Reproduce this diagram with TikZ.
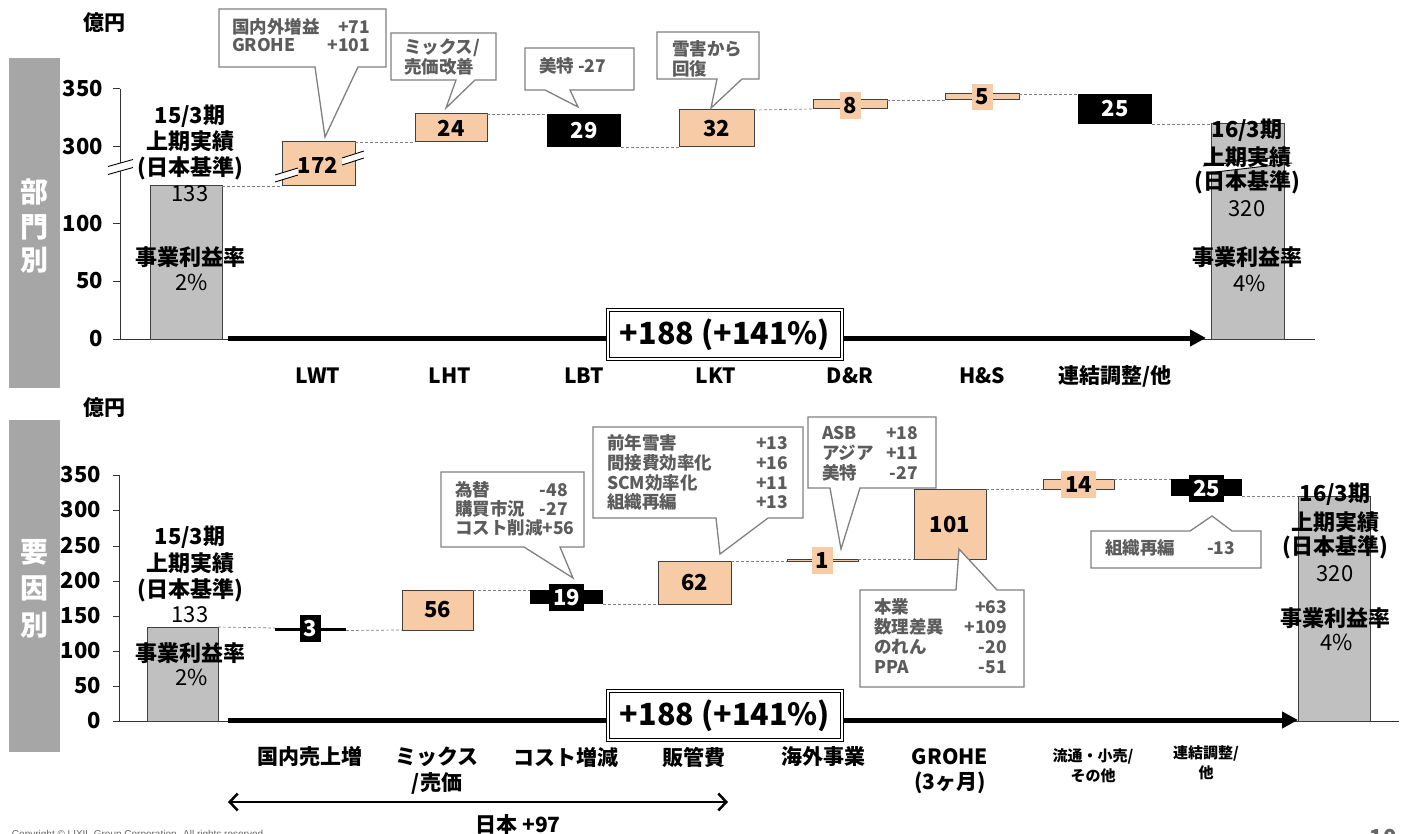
\documentclass[tikz,border=0pt]{standalone}
\usepackage{fontspec}
\setmainfont{Noto Sans CJK JP}
\newfontfamily\arialf{Liberation Sans}
\usetikzlibrary{arrows.meta}
\definecolor{peach}{HTML}{F8CBA7}
\definecolor{barg}{HTML}{C0C0C0}
\definecolor{sideg}{HTML}{A6A6A6}
\definecolor{cgray}{HTML}{808080}
\definecolor{ctxt}{HTML}{5C5C5C}
\definecolor{edge}{HTML}{404040}
\newcommand\fV{\fontsize{22}{24}\selectfont\bfseries}
\newcommand\fR{\fontsize{22}{24}\selectfont}
\newcommand\fX{\fontsize{21}{23}\selectfont\bfseries}
\newcommand\fS{\fontsize{15}{17}\selectfont\bfseries}
\newcommand\fCo{\fontsize{17.5}{19}\selectfont\bfseries}
\newcommand\fBig{\fontsize{30.5}{34}\selectfont\bfseries}
\newcommand\fSide{\fontsize{28}{30}\selectfont\bfseries}
\newcommand\fU{\fontsize{21}{23}\selectfont\bfseries}
\newcommand\BX[7]{\node[#1, minimum width={#5-#3}, minimum height={#6-#4}] (#2) at ({(#3+#5)/2},{(#4+#6)/2}) {#7};}
\begin{document}
\begin{tikzpicture}[x=1pt,y=-1pt,
  every node/.style={inner sep=0pt, outer sep=0pt},
  axisline/.style={draw=black!80, line width=1pt},
  inc/.style={draw=edge, line width=1pt, fill=peach, font=\fV},
  dec/.style={fill=black, text=white, font=\fV},
  total/.style={draw=edge, line width=1pt, fill=barg},
  conn/.style={draw=gray, line width=0.7pt, dash pattern=on 3pt off 2pt},
  lblp/.style={fill=peach, font=\fV},
  lblb/.style={fill=black, text=white, font=\fV},
  ticklbl/.style={anchor=east, font=\fV},
  side/.style={text=white, font=\fSide},
  xlbl/.style={font=\fX},
  xsmall/.style={font=\fS},
  cbox/.style={draw=cgray, line width=1.3pt, fill=white, line join=miter},
  ctl/.style={anchor=west, text=ctxt, font=\fCo},
  ctr/.style={anchor=east, text=ctxt, font=\fCo},
  bigarrow/.style={line width=5pt, -{Triangle[length=16pt,width=16pt]}},
  sumbox/.style={draw=black, double, double distance=2pt, line width=1pt, fill=white, font=\fBig, minimum width=234, minimum height=49},
  brk/.style={fill=white, draw=none},
  brkline/.style={draw=black, line width=0.9pt}
]
\useasboundingbox (0,0) rectangle (1410,834);

% ================= TOP CHART =================
\fill[sideg] (9,58) rectangle (60,388);
\node[side] (s1) at (34,192) {部};
\node[side] (s2) at (34,227) {門};
\node[side] (s3) at (34,260) {別};
\node[font=\fU] (u1) at (104,23) {億円};

\draw[axisline] (120,89) -- (120,339);
\foreach \yy/\lab in {89/350,147/300,224/100,281/50,339/0}{
  \draw[axisline] (113,\yy) -- (120,\yy);
  \node[ticklbl] at (103,\yy) {\lab};
}
\draw[axisline] (113,339) -- (1315,339);
% axis break
\fill[brk] (108,166.5) -- (133,159.5) -- (133,167.5) -- (108,174.5) -- cycle;
\draw[brkline] (108,166.5) -- (133,159.5) (108,174.5) -- (133,167.5);

\BX{total}{t0}{150}{186}{222}{339}{}
\BX{inc}{a1}{282}{142}{355}{186}{}
\BX{inc}{a2}{415}{114}{487}{142}{24}
\BX{dec}{a3}{547}{114}{621}{147}{29}
\BX{inc}{a4}{679}{110}{754}{147}{32}
\BX{inc}{a5}{813}{100}{887}{109}{}
\BX{inc}{a6}{945}{94}{1019}{100}{}
\BX{dec}{a7}{1078}{94}{1152}{124}{25}
\BX{total}{t1}{1211}{124}{1284}{339}{}

\draw[conn] (t0.north east) -- (a1.south west);
\draw[conn] (a1.north east) -- (a2.south west);
\draw[conn] (a2.north east) -- (a3.north west);
\draw[conn] (a3.south east) -- (a4.south west);
\draw[conn] (a4.north east) -- (a5.south west);
\draw[conn] (a5.north east) -- (a6.south west);
\draw[conn] (a6.north east) -- (a7.north west);
\draw[conn] (a7.south east) -- (t1.north west);

% breaks on 172 bar
\fill[brk] (275,175) -- (298,168) -- (298,175) -- (275,182) -- cycle;
\draw[brkline] (275,175) -- (298,168) (275,182) -- (298,175);
\fill[brk] (342,158) -- (364,151) -- (364,158) -- (342,165) -- cycle;
\draw[brkline] (342,158) -- (364,151) (342,165) -- (364,158);
\node[font=\fV] (v1) at (318,165) {172};
% break on right bar
\fill[brk] (1203,166) -- (1288,156) -- (1292,163) -- (1207,173) -- cycle;
\draw[brkline] (1203,166) -- (1288,156) (1207,173) -- (1292,163);

\BX{lblp}{v5}{840}{92}{861}{119}{8}
\BX{lblp}{v6}{972}{84}{993}{110}{5}

% bar texts
\node[font=\fV] (l1a) at (190,116) {15/3期};
\node[font=\fV] (l1b) at (190,141) {上期実績};
\node[font=\fV] (l1c) at (190,168) {(日本基準)};
\node[font=\fR] (l1d) at (190,194) {133};
\node[font=\fV] (l1e) at (190,257) {事業利益率};
\node[font=\fR] (l1f) at (192,282) {2\%};
\node[font=\fV] (r1a) at (1247,130) {16/3期};
\node[font=\fV] (r1b) at (1247,157) {上期実績};
\node[font=\fV] (r1c) at (1247,182) {(日本基準)};
\node[font=\fR] (r1d) at (1247,209) {320};
\node[font=\fV] (r1e) at (1247,257) {事業利益率};
\node[font=\fR] (r1f) at (1250,283) {4\%};

% arrow and sum
\coordinate (ta0) at (228,338);
\coordinate (ta1) at (1206,338);
\draw[bigarrow] (ta0) -- (ta1);
\node[sumbox] (sum1) at (725,334.5) {+188 (+141\%)};

% x labels
\node[xlbl] (x1) at (318,376) {LWT};
\node[xlbl] (x2) at (450,376) {LHT};
\node[xlbl] (x3) at (584,376) {LBT};
\node[xlbl] (x4) at (716,376) {LKT};
\node[xlbl] (x5) at (850,376) {D\&R};
\node[xlbl] (x6) at (982,376) {H\&S};
\node[xlbl] (x7) at (1115,376) {連結調整/他};

% callouts
\draw[cbox] (219,9) -- (386,9) -- (386,67) -- (358,67) -- (325,137) -- (315,67) -- (219,67) -- cycle;
\node[ctl] (c1a) at (232,27) {国内外増益};
\node[ctr] (c1b) at (370,27) {+71};
\node[ctl] (c1c) at (232,45) {GROHE};
\node[ctr] (c1d) at (370,45) {+101};

\draw[cbox] (391,33) -- (496,33) -- (496,80) -- (475,80) -- (446,108) -- (456,80) -- (391,80) -- cycle;
\node[ctl] (c2a) at (404,48) {ミックス/};
\node[ctl] (c2b) at (404,67) {売価改善};

\draw[cbox] (525,48) -- (634,48) -- (634,90) -- (570,90) -- (578,107) -- (545,90) -- (525,90) -- cycle;
\node[ctl] (c3a) at (539,66) {美特 -27};

\draw[cbox] (657,32) -- (759,32) -- (759,79) -- (742,79) -- (711,108) -- (717,79) -- (657,79) -- cycle;
\node[ctl] (c4a) at (672,49) {雪害から};
\node[ctl] (c4b) at (672,69) {回復};

% ================= BOTTOM CHART =================
\fill[sideg] (9,420) rectangle (60,752);
\node[side] (s4) at (34,552) {要};
\node[side] (s5) at (34,588) {因};
\node[side] (s6) at (34,625) {別};
\node[font=\fU] (u2) at (104,408) {億円};

\draw[axisline] (119,475) -- (119,721);
\foreach \yy/\lab in {475/350,510/300,546/250,581/200,616/150,651/100,686/50,721/0}{
  \draw[axisline] (113,\yy) -- (119,\yy);
  \node[ticklbl] at (101,\yy) {\lab};
}
\draw[axisline] (113,721) -- (1399,721);

\BX{total}{t2}{147}{627}{218}{721}{}
\BX{dec}{b1}{275}{628}{346}{630.5}{}
\BX{inc}{b2}{402}{590}{473}{630}{56}
\BX{dec}{b3}{530}{590}{603}{604}{}
\BX{inc}{b4}{658}{561}{731}{604}{62}
\BX{inc}{b5}{787}{559}{858}{561}{}
\BX{inc}{b6}{914}{489}{986}{559}{}
\BX{inc}{b7}{1043}{479}{1114}{489}{}
\BX{dec}{b8}{1171}{479}{1242}{496}{}
\BX{total}{t3}{1298}{496}{1370}{721}{}

\draw[conn] (t2.north east) -- (b1.north west);
\draw[conn] (b1.south east) -- (b2.south west);
\draw[conn] (b2.north east) -- (b3.north west);
\draw[conn] (b3.south east) -- (b4.south west);
\draw[conn] (b4.north east) -- (b5.south west);
\draw[conn] (b5.north east) -- (b6.south west);
\draw[conn] (b6.north east) -- (b7.south west);
\draw[conn] (b7.north east) -- (b8.north west);
\draw[conn] (b8.south east) -- (t3.north west);

\BX{lblb}{w1}{300}{615}{321}{642}{3}
\BX{lblb}{w3}{549}{584}{584}{611}{19}
\BX{lblp}{w5}{812}{547}{833}{574}{1}
\node[font=\fV] (w6) at (950,525) {101};
\BX{lblp}{w7}{1061}{471}{1096}{498}{14}
\BX{lblb}{w8}{1189}{475}{1224}{502}{25}

\node[font=\fV] (l2a) at (190,537) {15/3期};
\node[font=\fV] (l2b) at (190,563) {上期実績};
\node[font=\fV] (l2c) at (190,590) {(日本基準)};
\node[font=\fR] (l2d) at (190,615) {133};
\node[font=\fV] (l2e) at (190,653) {事業利益率};
\node[font=\fR] (l2f) at (192,677) {2\%};
\node[font=\fV] (r2a) at (1335,494) {16/3期};
\node[font=\fV] (r2b) at (1335,522) {上期実績};
\node[font=\fV] (r2c) at (1335,547) {(日本基準)};
\node[font=\fR] (r2d) at (1335,574) {320};
\node[font=\fV] (r2e) at (1335,618) {事業利益率};
\node[font=\fR] (r2f) at (1337,642) {4\%};

\coordinate (ba0) at (228,720);
\coordinate (ba1) at (1298,720);
\draw[bigarrow] (ba0) -- (ba1);
\node[sumbox] (sum2) at (725,715.5) {+188 (+141\%)};

\node[xlbl] (y1) at (310,757) {国内売上増};
\node[xlbl] (y2a) at (437,757) {ミックス};
\node[xlbl] (y2b) at (437,783) {/売価};
\node[xlbl] (y3) at (566,757) {コスト増減};
\node[xlbl] (y4) at (694,757) {販管費};
\node[xlbl] (y5) at (823,757) {海外事業};
\node[xlbl] (y6a) at (950,757) {GROHE};
\node[xlbl] (y6b) at (950,783) {(3ヶ月)};
\node[xsmall] (y7a) at (1093,756) {流通・小売/};
\node[xsmall] (y7b) at (1093,776) {その他};
\node[xsmall] (y8a) at (1206,753) {連結調整/};
\node[xsmall] (y8b) at (1206,773) {他};

\coordinate (ja0) at (228,802);
\coordinate (ja1) at (728,802);
\draw[line width=2.5pt, {Straight Barb[length=8pt,width=17pt]}-{Straight Barb[length=8pt,width=17pt]}] (ja0) -- (ja1);
\node[xlbl] (jp) at (518,825) {日本 +97};

% callouts
\draw[cbox] (441,472) -- (584,472) -- (584,547) -- (560,547) -- (573,578) -- (524,547) -- (441,547) -- cycle;
\node[ctl] (d1a) at (455,490) {為替};
\node[ctr] (d1b) at (568,490) {-48};
\node[ctl] (d1c) at (455,509) {購買市況};
\node[ctr] (d1d) at (568,509) {-27};
\node[ctl] (d1e) at (455,528) {コスト削減+56};

\draw[cbox] (593,427) -- (803,427) -- (803,518) -- (768,518) -- (720,554) -- (716,518) -- (593,518) -- cycle;
\node[ctl] (d2a) at (607,443) {前年雪害};
\node[ctr] (d2b) at (788,443) {+13};
\node[ctl] (d2c) at (607,463) {間接費効率化};
\node[ctr] (d2d) at (788,463) {+16};
\node[ctl] (d2e) at (607,483) {SCM効率化};
\node[ctr] (d2f) at (788,483) {+11};
\node[ctl] (d2g) at (607,502) {組織再編};
\node[ctr] (d2h) at (788,502) {+13};

\draw[cbox] (808,417) -- (936,417) -- (936,488) -- (860,488) -- (841,549) -- (830,488) -- (808,488) -- cycle;
\node[ctl] (d3a) at (822,433) {ASB};
\node[ctr] (d3b) at (918,433) {+18};
\node[ctl] (d3c) at (822,453) {アジア};
\node[ctr] (d3d) at (918,453) {+11};
\node[ctl] (d3e) at (822,473) {美特};
\node[ctr] (d3f) at (918,473) {-27};

\draw[cbox] (860,590) -- (956,590) -- (959,549) -- (997,590) -- (1024,590) -- (1024,687) -- (860,687) -- cycle;
\node[ctl] (d4a) at (874,607) {本業};
\node[ctr] (d4b) at (1007,607) {+63};
\node[ctl] (d4c) at (874,627) {数理差異};
\node[ctr] (d4d) at (1007,627) {+109};
\node[ctl] (d4e) at (874,647) {のれん};
\node[ctr] (d4f) at (1007,647) {-20};
\node[ctl] (d4g) at (874,667) {PPA};
\node[ctr] (d4h) at (1007,667) {-51};

\draw[cbox] (1091,531) -- (1190,531) -- (1212,516) -- (1232,531) -- (1261,531) -- (1261,568) -- (1091,568) -- cycle;
\node[ctl] (d5a) at (1105,548) {組織再編};
\node[ctr] (d5b) at (1235,548) {-13};

% footer
\node[anchor=base west, font=\arialf\fontsize{10}{12}\selectfont, text=black!60] (copy) at (12,837) {Copyright © LIXIL Group Corporation. All rights reserved.};
\node[anchor=base, font=\fV, text=black!60] (pg) at (1383,845) {10};
\end{tikzpicture}
\end{document}
